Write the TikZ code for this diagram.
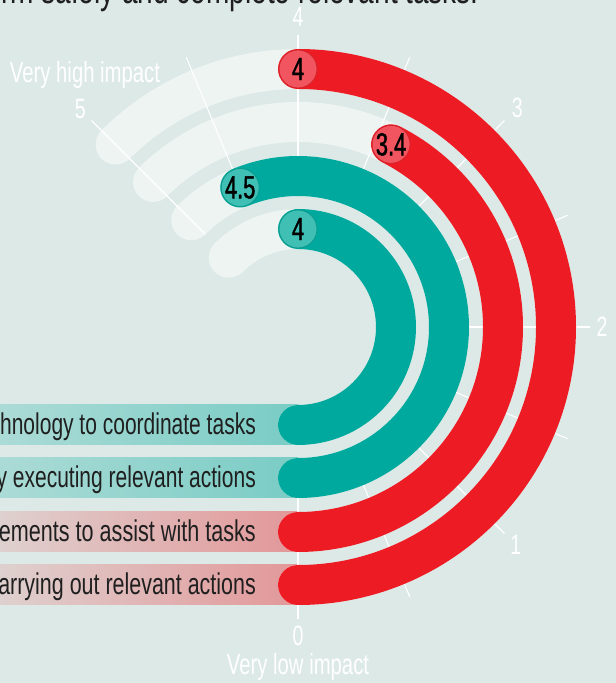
\documentclass[tikz,border=0pt]{standalone}
\usepackage{fontspec}
\setmainfont{Liberation Sans}[FakeStretch=0.7]
\newfontfamily\badgefont{Liberation Sans}[FakeStretch=0.68, FakeBold=1.2]
\usepackage{tikz}

\definecolor{cBack}{HTML}{DCE9E6}
\definecolor{cTrack}{HTML}{EDF4F2}
\definecolor{cRed}{HTML}{ED1C24}
\definecolor{cTeal}{HTML}{00A99D}
\definecolor{cRedBadge}{HTML}{F1555F}
\definecolor{cRedLine}{HTML}{D4222A}
\definecolor{cTealBadge}{HTML}{40C0B4}
\definecolor{cTealLine}{HTML}{0B998D}
\definecolor{cInk}{HTML}{1F1F1F}

\tikzset{
	trackarc/.style={draw=cTrack, line width=40pt, line cap=round},
	redbar/.style={draw=cRed, line width=40pt, line cap=round},
	tealbar/.style={draw=cTeal, line width=40pt, line cap=round},
	tickline/.style={draw=white, line width=1.1pt},
	redbadge/.style={shape=circle, fill=cRedBadge, draw=cRedLine, line width=0.8pt, minimum size=38pt, inner sep=0pt, text=black, font=\badgefont\fontsize{32}{36}\selectfont},
	tealbadge/.style={redbadge, fill=cTealBadge, draw=cTealLine},
	scalelabel/.style={text=white, inner sep=0pt, font=\fontsize{28}{30}\selectfont},
	bandtext/.style={text=cInk, inner sep=0pt, anchor=base east, font=\fontsize{30}{34}\selectfont},
}

\begin{document}
\begin{tikzpicture}[x=1pt, y=1pt]

	\useasboundingbox (0,0) rectangle (616,683);
	\clip (0,0) rectangle (616,683);
	\fill[cBack] (0,0) rectangle (616,683);

	\node[bandtext, font=\fontsize{40}{44}\selectfont] (title) at (479, 679) {form safely and complete relevant tasks.};

	% label bands
	\shade[left color=cTeal!22!cBack, right color=cTeal!45!cBack] (0,238) rectangle (298,278);
	\shade[left color=cTeal!22!cBack, right color=cTeal!45!cBack] (0,185) rectangle (298,225);
	\shade[left color=cRed!12!cBack, right color=cRed!40!cBack] (0,131) rectangle (298,171);
	\shade[left color=cRed!12!cBack, right color=cRed!40!cBack] (0,78) rectangle (298,118);

	\node[bandtext] (task1) at (256, 248) {hnology to coordinate tasks};
	\node[bandtext] (task2) at (256, 195) {y executing relevant actions};
	\node[bandtext, font=\addfontfeature{FakeStretch=0.72}\fontsize{30}{34}\selectfont] (task3) at (256, 141) {ements to assist with tasks};
	\node[bandtext, font=\addfontfeature{FakeStretch=0.715}\fontsize{30}{34}\selectfont] (task4) at (256, 88)  {arrying out relevant actions};

	\begin{scope}[shift={(298,356)}]
		% tracks up to 5
		\draw[trackarc] (-90:98)  arc[start angle=-90, end angle=135, radius=98];
		\draw[trackarc] (-90:151) arc[start angle=-90, end angle=135, radius=151];
		\draw[trackarc] (-90:205) arc[start angle=-90, end angle=135, radius=205];
		\draw[trackarc] (-90:258) arc[start angle=-90, end angle=135, radius=258];

		% scale lines
		\draw[tickline] (-90:131) -- (-90:292);
		\draw[tickline] (-67.5:131) -- (-67.5:292);
		\draw[tickline] (-45:131) -- (-45:292);
		\draw[tickline] (-22.5:131) -- (-22.5:292);
		\draw[tickline] (0:131) -- (0:292);
		\draw[tickline] (22.5:131) -- (22.5:292);
		\draw[tickline] (45:131) -- (45:292);
		\draw[tickline] (67.5:131) -- (67.5:292);
		\draw[tickline] (90:131) -- (90:292);
		\draw[tickline] (112.5:131) -- (112.5:292);
		\draw[tickline] (135:131) -- (135:292);

		% bars
		\draw[tealbar] (-90:98)  arc[start angle=-90, end angle=90, radius=98];
		\draw[tealbar] (-90:151) arc[start angle=-90, end angle=112.5, radius=151];
		\draw[redbar]  (-90:205) arc[start angle=-90, end angle=63, radius=205];
		\draw[redbar]  (-90:258) arc[start angle=-90, end angle=90, radius=258];

		\node[tealbadge] (v1) at (90:98)    {4};
		\node[tealbadge] (v2) at (112.5:151) {4.5};
		\node[redbadge]  (v3) at (63:205)   {3.4};
		\node[redbadge]  (v4) at (90:258)   {4};

		\node[scalelabel] (s0) at (-90:309) {0};
		\node[scalelabel] (s1) at (-45:308) {1};
		\node[scalelabel] (s2) at (0:304)   {2};
		\node[scalelabel] (s3) at (45:310)  {3};
		\node[scalelabel] (s4) at (90:310)  {4};
		\node[scalelabel] (s5) at (135:308) {5};
	\end{scope}

	\node[scalelabel, font=\fontsize{29}{32}\selectfont] (high) at (85, 608) {Very high impact};
	\node[scalelabel, font=\fontsize{29}{32}\selectfont] (low) at (298, 16) {Very low impact};

\end{tikzpicture}
\end{document}
